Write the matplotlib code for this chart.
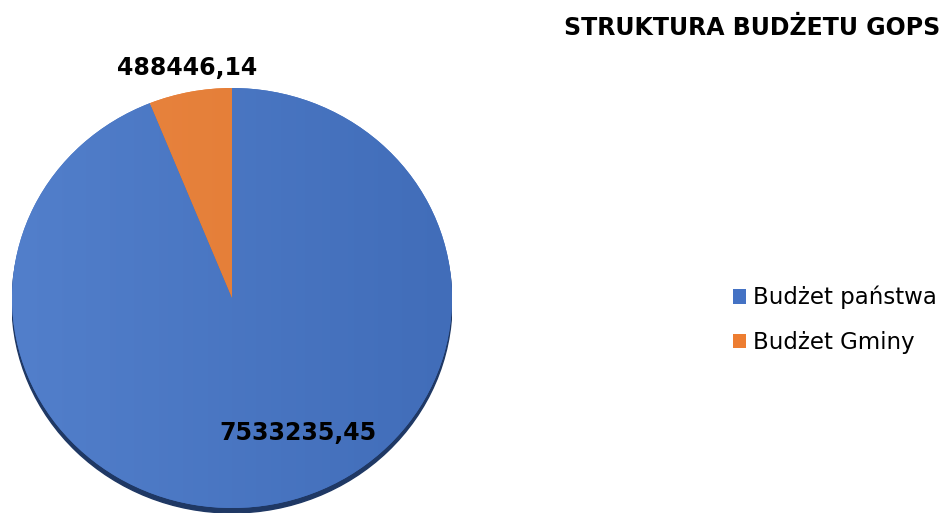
import numpy as np
import matplotlib
matplotlib.use("Agg")
import matplotlib.pyplot as plt
from matplotlib.patches import Ellipse
from matplotlib.colors import LinearSegmentedColormap

categories = ["Budżet państwa", "Budżet Gminy"]
values = [7533235.45, 488446.14]
colors = ["#4472C4", "#ED7D31"]
grad_light = ["#527FCB", "#EA8540"]
grad_dark = ["#416DB9", "#E07A33"]
title = "STRUKTURA BUDŻETU GOPS"

W, H = 943, 514
fig = plt.figure(figsize=(W / 100, H / 100), dpi=100)
fig.patch.set_facecolor("white")

# pie ellipse geometry (pixels)
cx, cy, rx, ry = 232, 298, 220, 210

# shadow
sax = fig.add_axes([(cx - rx) / W, 1 - (cy + ry + 5) / H, 2 * rx / W, 2 * ry / H])
sax.set_xlim(-1, 1); sax.set_ylim(-1, 1); sax.axis("off")
sax.add_patch(Ellipse((0, 0), 2, 2, color="#1F3864"))

ax = fig.add_axes([(cx - rx) / W, 1 - (cy + ry) / H, 2 * rx / W, 2 * ry / H])
wedges, _ = ax.pie(values, colors=colors, startangle=90, counterclock=False,
                   radius=1, wedgeprops=dict(linewidth=0))
ax.set_xlim(-1, 1); ax.set_ylim(-1, 1)
ax.set_aspect("auto")
ax.axis("off")

# subtle gradient fill inside each wedge
xx = np.linspace(0, 1, 256)
grad = np.tile(xx, (64, 1))
for w, c1, c2 in zip(wedges, grad_light, grad_dark):
    cmap = LinearSegmentedColormap.from_list("g", [c1, c2])
    im = ax.imshow(grad, extent=(-1, 1, -1, 1), cmap=cmap, aspect="auto",
                   origin="lower", zorder=w.get_zorder() + 0.1)
    im.set_clip_path(w)
ax.set_xlim(-1, 1); ax.set_ylim(-1, 1)

def fmt(v):
    return f"{v:.2f}".replace(".", ",")

# data labels (pixel positions)
fig.text(187 / W, 1 - 68 / H, fmt(values[1]), ha="center", va="center",
         fontsize=17, fontweight="bold", color="black")
fig.text(298 / W, 1 - 433 / H, fmt(values[0]), ha="center", va="center",
         fontsize=17, fontweight="bold", color="black", zorder=10)

fig.text(564 / W, 1 - 28 / H, title, ha="left", va="center",
         fontsize=17, fontweight="bold", color="black")

fig.legend(wedges, categories, loc="center left",
           bbox_to_anchor=(712 / W, 1 - 320 / H), frameon=False,
           fontsize=16.5, handlelength=0.6, handleheight=0.6,
           handletextpad=0.3, labelspacing=0.95)

fig.savefig("out.png", dpi=100, facecolor="white")
